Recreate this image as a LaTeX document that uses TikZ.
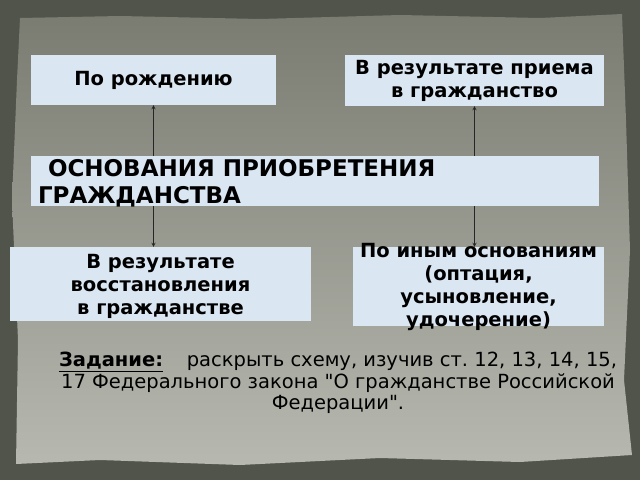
\documentclass[tikz,border=0pt]{standalone}
\usepackage{fontspec}
\setmainfont{DejaVu Sans}
\usetikzlibrary{positioning}
\definecolor{frame}{HTML}{50544A}
\definecolor{papertop}{HTML}{7A7C72}
\definecolor{paperbot}{HTML}{B7B8AF}
\definecolor{boxfill}{HTML}{DAE6F2}
\tikzset{
  box/.style={fill=boxfill, inner sep=0pt},
  boxtext/.style={font=\bfseries\fontsize{19.5}{23}\selectfont, align=center, inner sep=0pt},
  titletext/.style={font=\bfseries\fontsize{23}{27}\selectfont, align=left, inner sep=0pt},
  tasktext/.style={font=\fontsize{19.5}{21.5}\selectfont, align=center, inner sep=0pt},
  link/.style={->, >=stealth, line width=0.8pt, black!85},
}
\frenchspacing
\begin{document}
\begin{tikzpicture}[x=1pt,y=-1pt]
  % background and paper
  \fill[frame] (0,0) rectangle (640,480);
  \shade[top color=papertop, bottom color=paperbot]
    (20,18) -- (120,16) -- (260,19) -- (400,15) -- (540,18) -- (622,14)
    -- (626,120) -- (630,250) -- (624,380) -- (632,455)
    -- (520,462) -- (380,458) -- (240,465) -- (100,460) -- (16,464)
    -- (18,340) -- (12,200) -- (17,80) -- cycle;
  % boxes
  \node[box, minimum width=245pt, minimum height=50pt] (born) at (153.5,80) {};
  \node[box, minimum width=259pt, minimum height=51pt] (admit) at (474.5,80.5) {};
  \node[box, minimum width=568pt, minimum height=50pt] (main) at (315,181) {};
  \node[box, minimum width=301pt, minimum height=74pt] (restore) at (160.5,284) {};
  \node[box, minimum width=251pt, minimum height=79pt] (other) at (478.5,286.5) {};
  % texts
  \node[boxtext] (bornt) at (born) {По рождению};
  \node[boxtext] (admitt) at (admit) {В результате приема\\в гражданство};
  \node[titletext, anchor=north west] (maint) at ([xshift=7pt,yshift=-3pt]main.north west)
    {\hspace*{10pt}ОСНОВАНИЯ ПРИОБРЕТЕНИЯ\\ГРАЖДАНСТВА};
  \node[boxtext] (restoret) at ([yshift=-2pt]restore.center) {В результате\\восстановления\\в гражданстве};
  \node[boxtext] (othert) at (other)
    {По иным основаниям\\(оптация,\\усыновление,\\удочерение)};
  \node[tasktext, anchor=north] (task) at (338,352)
    {\underline{\textbf{Задание:}}\hspace{0.9em} раскрыть схему, изучив ст. 12, 13, 14, 15,\\
     17 Федерального закона \textquotedbl О гражданстве Российской\\Федерации\textquotedbl.};
  % arrows
  \draw[link] (main.north -| born) -- (born.south);
  \draw[link] (main.south -| born) -- (restore.north -| born);
  \draw[link] (main.north -| admit) -- (admit.south);
  \draw[link] (main.south -| admit) -- (other.north -| admit);
\end{tikzpicture}
\end{document}
